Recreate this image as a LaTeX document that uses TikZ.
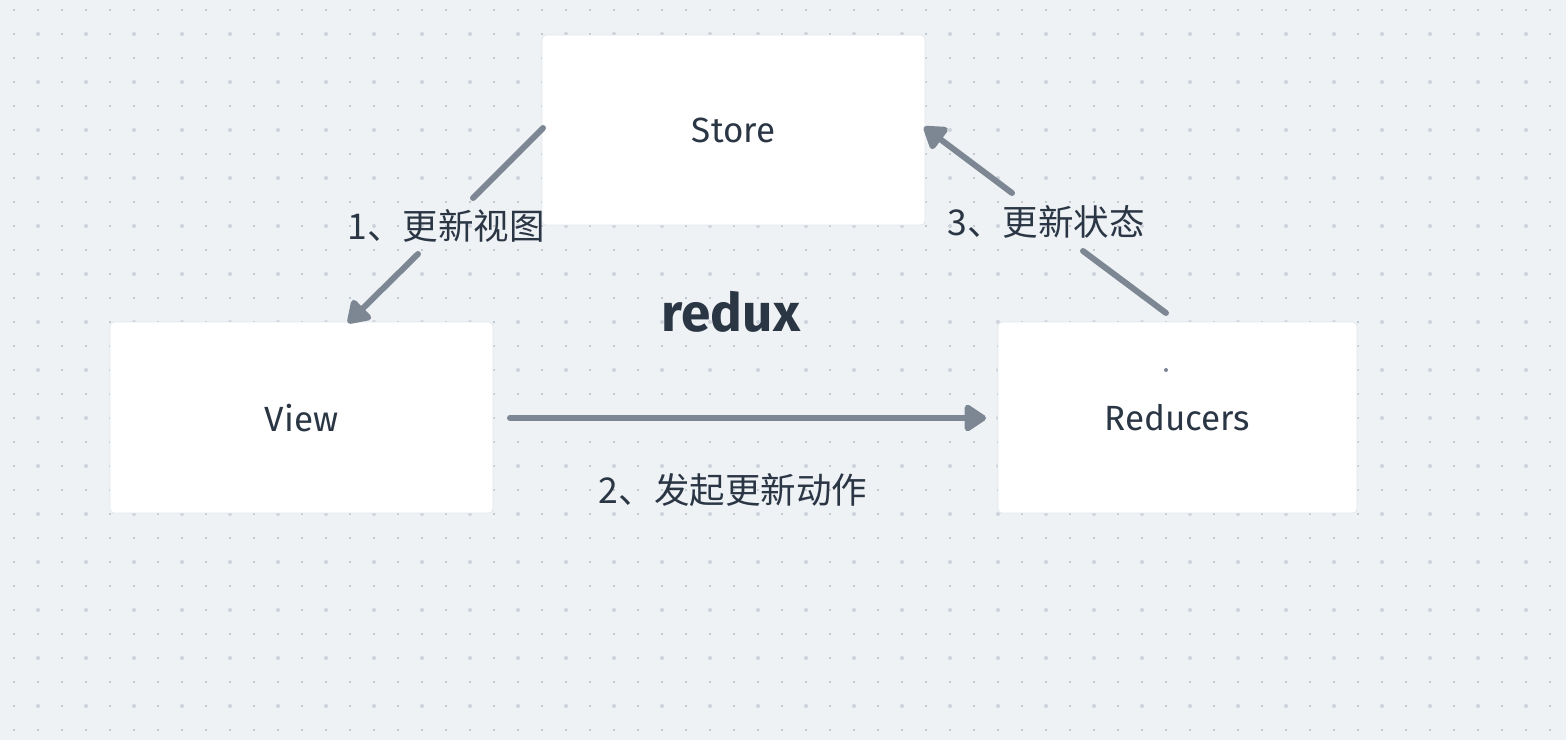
\documentclass[tikz,border=0pt]{standalone}
\usepackage{fontspec}
\setmainfont{Fira Sans}
\newfontfamily\cjk{Noto Sans CJK SC}
\usetikzlibrary{arrows.meta}
\definecolor{bgc}{HTML}{EFF2F5}
\definecolor{dotc}{HTML}{C3C8CF}
\definecolor{bigdotc}{HTML}{CDD3DB}
\definecolor{arrc}{HTML}{7D8794}
\definecolor{txtc}{HTML}{2B3645}
\definecolor{shc}{HTML}{E3E7EC}
\tikzset{
  card/.style={fill=white, draw=shc, line width=0.8pt, rounded corners=4pt},
  cardtext/.style={text=txtc, font=\fontsize{35}{40}\selectfont},
  lbl/.style={text=txtc, font=\cjk\fontsize{35.5}{40}\selectfont, inner sep=0pt},
  conn/.style={draw=arrc, line width=6pt, line cap=round},
  tip/.style={-{Triangle[length=24pt,width=30pt,round]}},
}
\begin{document}
\begin{tikzpicture}[x=1pt,y=-1pt]
\useasboundingbox (0,0) rectangle (1566,740);
\fill[bgc] (0,0) rectangle (1566,740);
% dot grid
\foreach \x in {14,38,...,1566} {
  \foreach \y in {10,34,...,740} {
    \fill[dotc] (\x-1,\y-1) rectangle (\x+1,\y+1);
  }
}
\foreach \x in {38,86,...,1566} {
  \foreach \y in {34,82,...,740} {
    \fill[bigdotc] (\x,\y) circle (2);
  }
}
% cards
\draw[card] (542,35) rectangle (925,225);
\draw[card] (110,322) rectangle (493,513);
\draw[card] (998,322) rectangle (1357,513);
\node[cardtext] (store) at (733.5,130) {Store};
\node[cardtext] (view) at (301.5,418) {View};
\node[cardtext] (reducers) at (1177.5,418) {Reducers};
\fill[arrc] (1166,370) circle (2);
\node[text=txtc, font=\bfseries\fontsize{53}{60}\selectfont] (redux) at (731,312) {redux};
% labels
\node[lbl] (l1) at (446,226) {1、更新视图};
\node[lbl] (l2) at (733,490) {2、发起更新动作};
\node[lbl] (l3) at (1046,222) {3、更新状态};
% connector points
\coordinate (a1s) at (543,128);
\coordinate (a1m) at (473,198);
\coordinate (a1n) at (418,254);
\coordinate (a1e) at (348,323);
\coordinate (a2s) at (510,418);
\coordinate (a2e) at (986,418);
\coordinate (a3s) at (1166,313);
\coordinate (a3m) at (1083,251);
\coordinate (a3n) at (1012,193);
\coordinate (a3e) at (924,127);
\draw[conn] (a1s) -- (a1m);
\draw[conn, tip] (a1n) -- (a1e);
\draw[conn, tip] (a2s) -- (a2e);
\draw[conn] (a3s) -- (a3m);
\draw[conn, tip] (a3n) -- (a3e);
\end{tikzpicture}
\end{document}
